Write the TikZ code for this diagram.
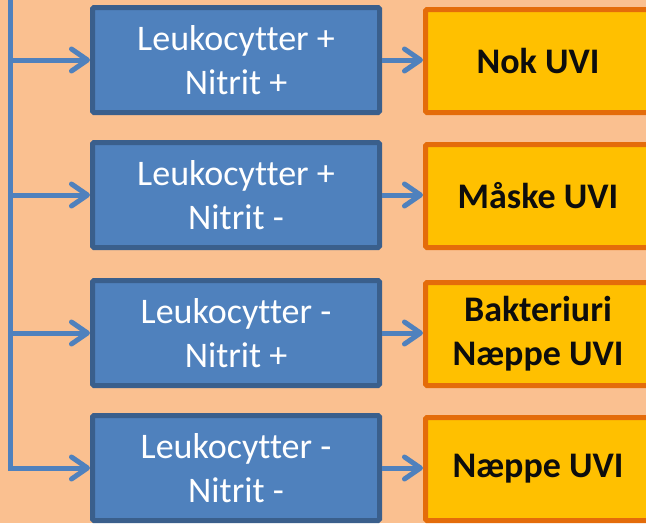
\documentclass[tikz,border=0pt]{standalone}
\usepackage{fontspec}
\setmainfont[Ligatures=NoCommon]{Carlito}
\usetikzlibrary{arrows.meta}
\definecolor{peach}{HTML}{FAC090}
\definecolor{boxblue}{HTML}{4F81BD}
\definecolor{darkblue}{HTML}{3A5F8C}
\definecolor{amber}{HTML}{FFC000}
\definecolor{darkorange}{HTML}{E46C0A}
\tikzset{
  testbox/.style={draw=darkblue,fill=boxblue,line width=5pt,rounded corners=1.5pt,
    minimum width=287pt,minimum height=105pt,align=center,text=white,
    font=\fontsize{36}{44}\selectfont},
  resbox/.style={draw=darkorange,fill=amber,line width=5pt,rounded corners=1.5pt,
    minimum width=225pt,minimum height=103pt,align=center,text=black!95,
    font=\fontsize{36}{44}\selectfont\bfseries},
  flow/.style={draw=boxblue,line width=5pt,-{Straight Barb[length=16pt,width=22pt,round]}}
}
\begin{document}
\begin{tikzpicture}[x=1pt,y=-1pt]
  \fill[peach] (0,0) rectangle (646,523);
  \useasboundingbox (0,0) rectangle (646,523);
  \coordinate (top) at (10,-10);
  \foreach \i/\y/\test/\res in {
      1/60/{Leukocytter +\\Nitrit +}/{Nok UVI},
      2/195/{Leukocytter +\\Nitrit -}/{Måske UVI},
      3/333/{Leukocytter -\\Nitrit +}/{Bakteriuri\\Næppe UVI},
      4/468/{Leukocytter -\\Nitrit -}/{Næppe UVI}} {
    \node[testbox] (b\i) at (236,\y) {\test};
    \node[resbox] (r\i) at (538,\y+1) {\res};
    \draw[flow] (b\i) -- (b\i -| r\i.west);
  }
  % left spine
  \draw[flow] (top) |- (b4.west);
  \foreach \i in {1,2,3}
    \draw[flow] (b\i.west -| top) -- (b\i.west);
\end{tikzpicture}
\end{document}
